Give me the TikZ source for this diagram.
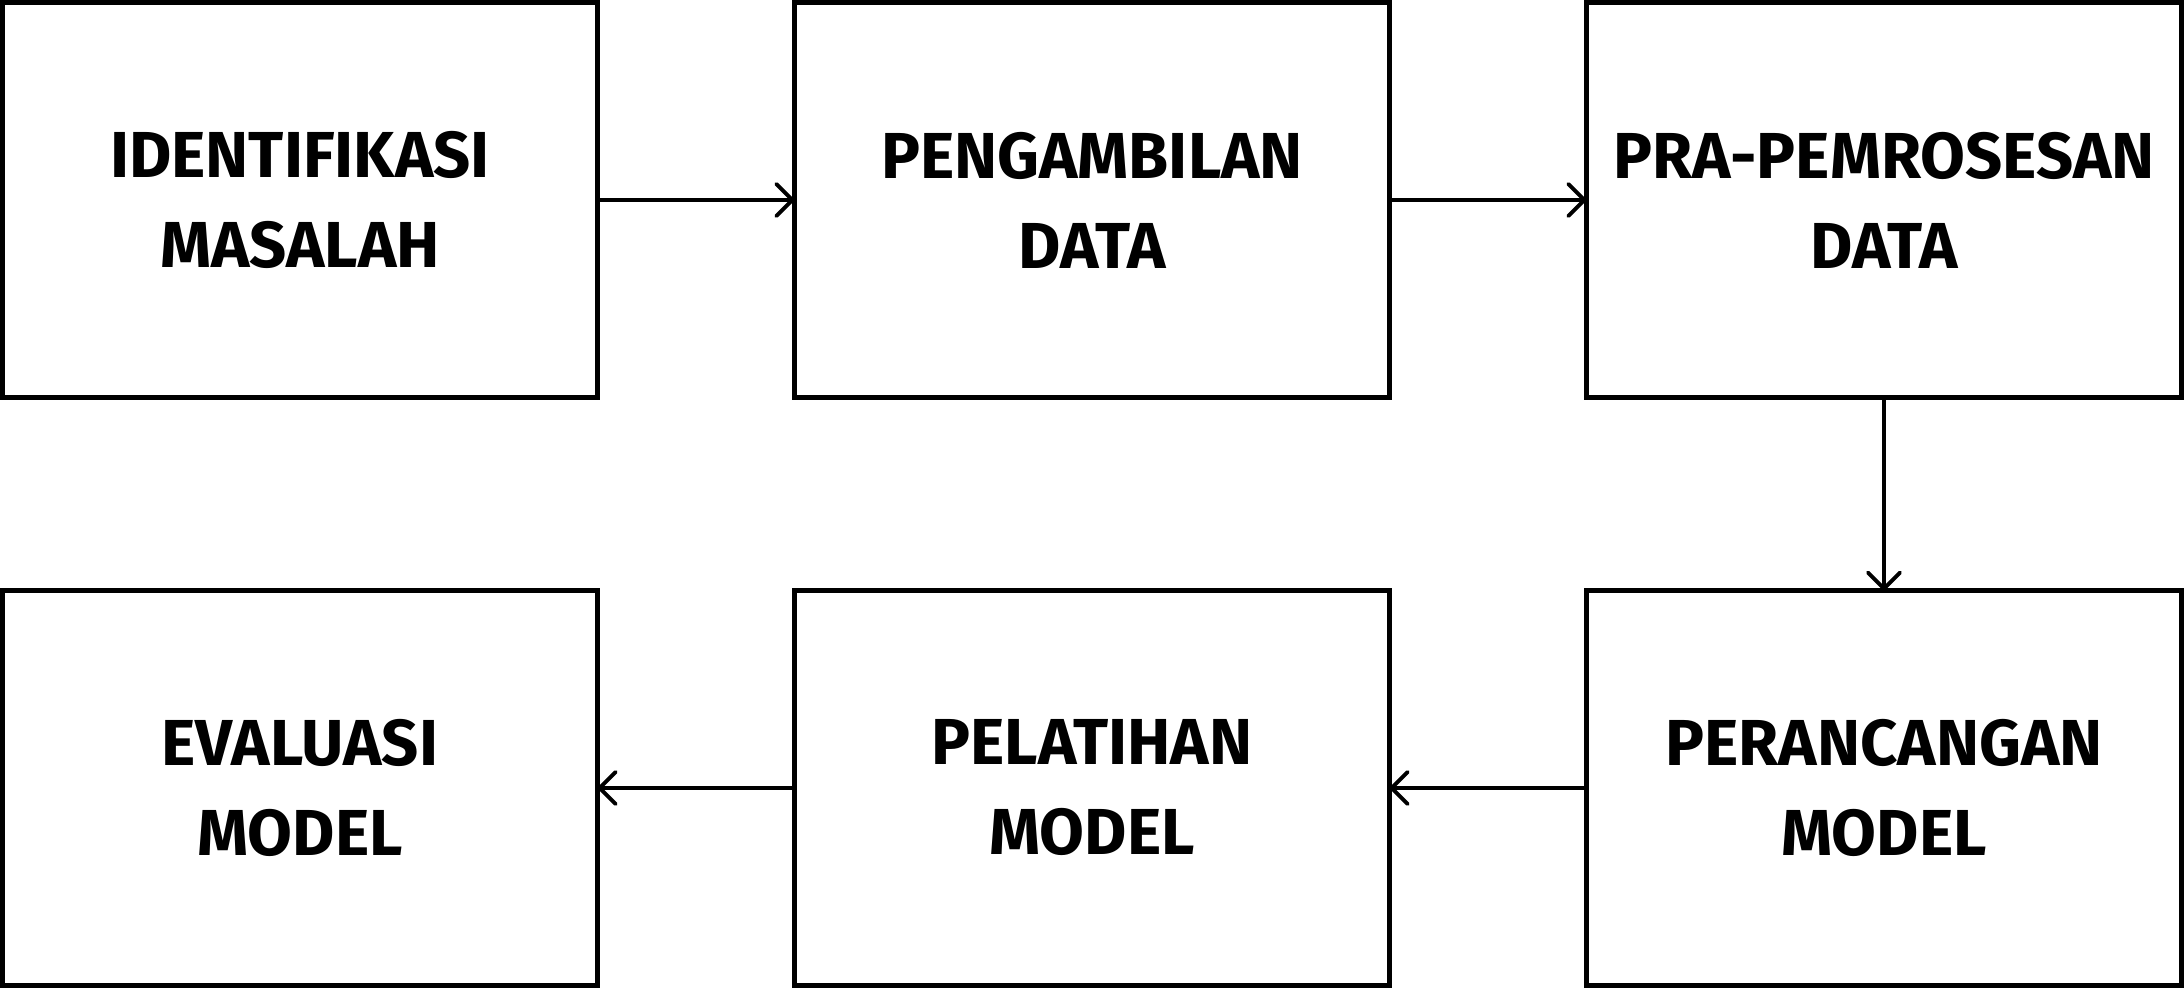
\documentclass[tikz,border=0pt]{standalone}
\usepackage{fontspec}
\setmainfont{Fira Sans}
\usetikzlibrary{arrows.meta}
\usetikzlibrary{matrix}
\usetikzlibrary{positioning}

\tikzset{
  stage/.style={draw,rectangle,line width=1.4pt,outer sep=0pt,inner sep=0pt,
    minimum width=5.955cm,minimum height=3.95cm,align=center,
    font=\fontsize{18.5}{25.6}\selectfont\bfseries},
  flow/.style={line width=0.95pt,-{Straight Barb[length=1.6mm,width=3.2mm,round,line width=1.1pt]}}
}

\begin{document}
\begin{tikzpicture}
  \useasboundingbox (0,0) rectangle (21.84,9.88);

  \matrix at (10.92,4.94) [column sep=1.916cm,row sep=1.881cm,ampersand replacement=\&] {
    \node [stage] (Aident) {IDENTIFIKASI\\MASALAH}; \&
    \node [stage] (Aambil) {PENGAMBILAN\\DATA}; \&
    \node [stage] (Apra) {PRA-PEMROSESAN\\DATA}; \\
    \node [stage] (Aeval) {EVALUASI\\MODEL}; \&
    \node [stage] (Alatih) {PELATIHAN\\MODEL}; \&
    \node [stage] (Arancang) {PERANCANGAN\\MODEL}; \\
  };

  \path [draw,flow]
    (Aident)   edge (Aambil)
    (Aambil)   edge (Apra)
    (Apra)     edge (Arancang)
    (Arancang) edge (Alatih)
    (Alatih)   edge (Aeval);

\end{tikzpicture}
\end{document}
